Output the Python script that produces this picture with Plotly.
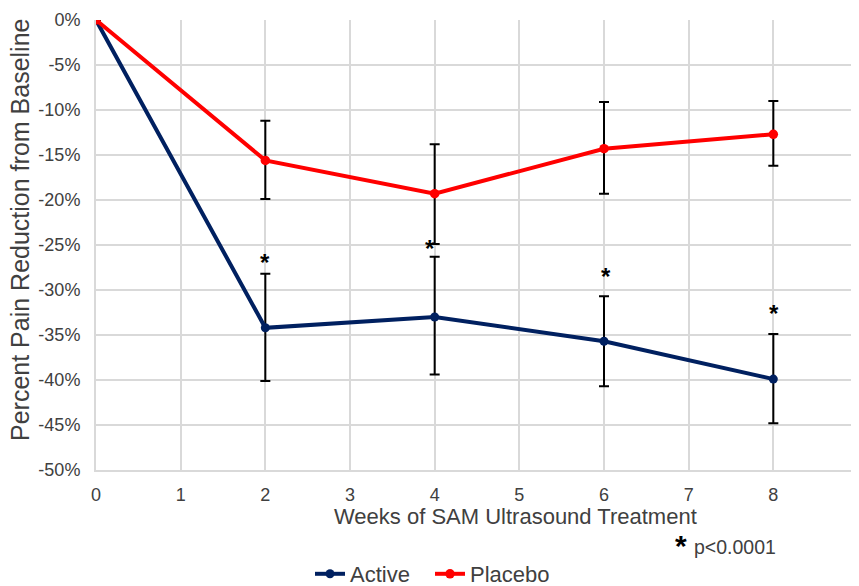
import plotly.graph_objects as go

weeks = [0, 2, 4, 6, 8]
active = [0, -34.2, -33.0, -35.7, -39.9]
active_err_plus = [0, 6.0, 6.7, 5.0, 5.0]
active_err_minus = [0, 5.9, 6.4, 5.0, 4.9]
placebo = [0, -15.6, -19.3, -14.3, -12.7]
placebo_err_plus = [0, 4.4, 5.5, 5.2, 3.7]
placebo_err_minus = [0, 4.3, 5.6, 5.0, 3.5]
sig_x = [2, 4, 6, 8]
sig_y = [-26.6, -25.0, -28.2, -32.3]
sig_shift = [0, -5, 2, 1]
x_ticks = list(range(0, 10))
y_ticks = list(range(0, -55, -5))
y_ticktext = [f"{v}%" for v in y_ticks]

FONT = "Liberation Sans, Arial, sans-serif"
TXT = "#404040"
# page body has an 8px margin; the figure is sized so the plot lands where the reference has it
L, T = 88, 12
PW, PH = 762, 450

fig = go.Figure()
fig.add_trace(go.Scatter(
    x=weeks, y=active, name="Active", mode="lines+markers",
    line=dict(color="#002060", width=4), marker=dict(size=9, color="#002060"),
    error_y=dict(type="data", symmetric=False, array=active_err_plus,
                 arrayminus=active_err_minus, color="black", thickness=2, width=5),
))
fig.add_trace(go.Scatter(
    x=weeks, y=placebo, name="Placebo", mode="lines+markers",
    line=dict(color="#ff0000", width=4), marker=dict(size=9.5, color="#ff0000"),
    error_y=dict(type="data", symmetric=False, array=placebo_err_plus,
                 arrayminus=placebo_err_minus, color="black", thickness=2, width=5),
))

for x, y, s in zip(sig_x, sig_y, sig_shift):
    fig.add_annotation(x=x, y=y, text="<b>*</b>", showarrow=False, xshift=s, yshift=-3,
                       font=dict(family=FONT, size=24, color="black"))

fig.add_annotation(xref="paper", yref="paper", x=(515 - 96) / PW, y=(470 - 517) / PH,
                   text="Weeks of SAM Ultrasound Treatment", showarrow=False,
                   font=dict(family=FONT, size=22, color=TXT),
                   xanchor="center", yanchor="middle")
fig.add_annotation(xref="paper", yref="paper", x=(20 - 96) / PW, y=(470 - 230) / PH,
                   text="Percent Pain Reduction from Baseline", showarrow=False,
                   textangle=-90,
                   font=dict(family=FONT, size=25, color=TXT),
                   xanchor="center", yanchor="middle")
fig.add_annotation(xref="paper", yref="paper", x=(681 - 96) / PW, y=(470 - 545) / PH,
                   text="<b>*</b>", showarrow=False,
                   font=dict(family=FONT, size=30, color="black"),
                   xanchor="center", yanchor="middle")
fig.add_annotation(xref="paper", yref="paper", x=(692 - 96) / PW, y=(470 - 547) / PH,
                   text="p<0.0001", showarrow=False,
                   font=dict(family=FONT, size=19.5, color=TXT),
                   xanchor="left", yanchor="middle")

fig.update_layout(
    width=851, height=578,
    margin=dict(l=L, r=851 - L - PW, t=T, b=578 - T - PH, autoexpand=False),
    paper_bgcolor="white", plot_bgcolor="white",
    font=dict(family=FONT, size=18, color=TXT),
    showlegend=True,
    legend=dict(orientation="h", xanchor="left", yanchor="middle",
                x=(310 - 96) / PW, y=(470 - 574) / PH,
                font=dict(family=FONT, size=22, color=TXT),
                itemwidth=30, tracegroupgap=0, entrywidth=75),
    xaxis=dict(range=[0, 9], tickvals=x_ticks, showgrid=True, gridcolor="#d9d9d9",
               gridwidth=2, zeroline=False, showline=True, linecolor="#d9d9d9",
               linewidth=2, ticks="", automargin=False, ticklabelstandoff=7,
               ticklabeloverflow="allow",
               tickfont=dict(family=FONT, size=18, color=TXT)),
    yaxis=dict(range=[-50, 0], tickvals=y_ticks, ticktext=y_ticktext, showgrid=True,
               gridcolor="#d9d9d9", gridwidth=2, zeroline=False, showline=True,
               linecolor="#d9d9d9", linewidth=2, ticks="", automargin=False,
               ticklabelstandoff=10,
               tickfont=dict(family=FONT, size=18, color=TXT)),
)

fig.write_html("out.html")
